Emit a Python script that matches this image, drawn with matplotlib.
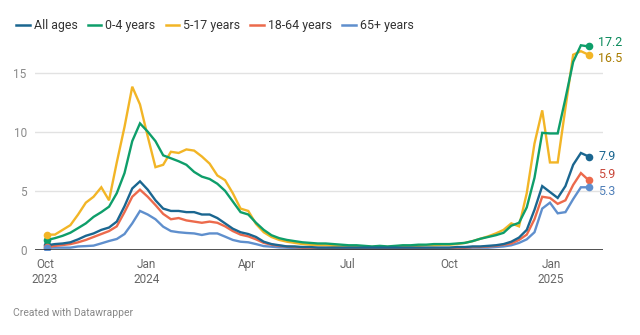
import numpy as np
import pandas as pd
import matplotlib
matplotlib.use("Agg")
import matplotlib.pyplot as plt
import matplotlib.dates as mdates

plt.rcParams['font.family'] = ['Roboto', 'DejaVu Sans']

# weekly rates, Oct 2023 - Feb 2025
dates = pd.date_range("2023-10-03", periods=71, freq="7D")

all_ages = [0.4, 0.5, 0.55, 0.65, 0.9, 1.2, 1.4, 1.7, 1.9, 2.4,
            3.7, 5.2, 5.8, 5.1, 4.2, 3.5, 3.3, 3.3, 3.2, 3.2,
            3.0, 3.0, 2.7, 2.25, 1.8, 1.5, 1.35, 1.1, 0.7, 0.5,
            0.4, 0.3, 0.3, 0.25, 0.25, 0.2, 0.2, 0.2, 0.2, 0.2,
            0.2, 0.2, 0.2, 0.2, 0.2, 0.2, 0.2, 0.2, 0.2, 0.2,
            0.2, 0.2, 0.2, 0.25, 0.25, 0.3, 0.3, 0.35, 0.4, 0.5,
            0.7, 1.05, 1.7, 3.4, 5.4, 4.9, 4.4, 5.4, 7.2, 8.2, 7.9]
age_0_4 = [0.85, 1.0, 1.2, 1.46, 1.85, 2.25, 2.8, 3.2, 3.66, 4.8,
           6.5, 9.2, 10.7, 10.0, 9.2, 8.0, 7.75, 7.5, 7.2, 6.6,
           6.2, 6.0, 5.6, 5.0, 4.1, 3.2, 3.0, 2.3, 1.7, 1.25,
           1.0, 0.85, 0.75, 0.65, 0.6, 0.55, 0.55, 0.5, 0.45, 0.4,
           0.4, 0.35, 0.3, 0.35, 0.3, 0.35, 0.4, 0.4, 0.45, 0.45,
           0.5, 0.5, 0.5, 0.55, 0.6, 0.75, 0.95, 1.1, 1.25, 1.45,
           2.05, 2.3, 3.6, 6.1, 9.9, 9.85, 9.85, 12.8, 15.9, 17.3, 17.2]
age_5_17 = [1.3, 1.3, 1.7, 2.1, 3.0, 4.0, 4.5, 5.3, 4.2, 7.4,
            10.4, 13.8, 12.3, 9.6, 7.0, 7.2, 8.3, 8.2, 8.5, 8.4,
            7.9, 7.3, 6.3, 5.9, 4.8, 3.5, 3.3, 2.2, 1.5, 1.1,
            0.85, 0.7, 0.6, 0.5, 0.45, 0.4, 0.4, 0.35, 0.3, 0.3,
            0.25, 0.3, 0.25, 0.3, 0.25, 0.3, 0.35, 0.3, 0.35, 0.4,
            0.4, 0.45, 0.45, 0.5, 0.6, 0.75, 0.95, 1.15, 1.4, 1.7,
            2.25, 2.0, 4.8, 9.0, 11.8, 7.4, 7.4, 12.0, 16.5, 16.8, 16.5]
age_18_64 = [0.25, 0.35, 0.42, 0.5, 0.65, 0.85, 1.1, 1.35, 1.6, 2.0,
             3.2, 4.5, 5.1, 4.5, 3.8, 3.05, 2.6, 2.7, 2.5, 2.4,
             2.3, 2.4, 2.3, 2.0, 1.6, 1.3, 1.15, 0.9, 0.6, 0.45,
             0.35, 0.3, 0.25, 0.2, 0.2, 0.18, 0.17, 0.17, 0.16, 0.16,
             0.15, 0.15, 0.15, 0.15, 0.15, 0.15, 0.15, 0.16, 0.16, 0.17,
             0.17, 0.18, 0.18, 0.2, 0.2, 0.25, 0.25, 0.3, 0.35, 0.45,
             0.55, 0.85, 1.3, 2.6, 4.5, 4.4, 3.9, 4.2, 5.5, 6.5, 5.9]
age_65 = [0.2, 0.2, 0.2, 0.2, 0.3, 0.33, 0.37, 0.56, 0.76, 0.93,
          1.35, 2.25, 3.3, 3.0, 2.6, 1.97, 1.6, 1.5, 1.44, 1.4,
          1.27, 1.4, 1.4, 1.13, 0.85, 0.7, 0.65, 0.5, 0.33, 0.28,
          0.22, 0.2, 0.17, 0.15, 0.15, 0.14, 0.14, 0.13, 0.13, 0.13,
          0.12, 0.12, 0.12, 0.12, 0.12, 0.12, 0.12, 0.13, 0.13, 0.13,
          0.13, 0.14, 0.14, 0.15, 0.15, 0.2, 0.2, 0.2, 0.25, 0.3,
          0.4, 0.6, 0.9, 1.5, 3.5, 4.0, 3.1, 3.2, 4.3, 5.3, 5.3]

labels = ["All ages", "0-4 years", "5-17 years", "18-64 years", "65+ years"]
series = [all_ages, age_0_4, age_5_17, age_18_64, age_65]
colors = ["#1a6690", "#0e9e6a", "#f2b526", "#ec6a4c", "#5f8fcd"]
label_colors = ["#1a6690", "#0b8a5c", "#a87c00", "#c9483b", "#4f7fb8"]
# vertical nudges (points) for end labels so they don't collide
nudge = [0, 3, -3, 4, -3]

fig = plt.figure(figsize=(6.4, 3.35), dpi=100)
ax = fig.add_axes([35 / 640, 85 / 335, 568 / 640, 213 / 335])

# draw back to front so All ages sits on top like the original
order = [2, 1, 4, 3, 0]
for k in order:
    ax.plot(dates, series[k], color=colors[k], lw=1.7, solid_joinstyle="miter",
            zorder=3 + (k == 0))
for k in range(5):
    ys = series[k]
    ax.plot([dates[0], dates[-1]], [ys[0], ys[-1]], "o", color=colors[k],
            ms=5.5, zorder=5, mec="none")
    ax.annotate(f"{ys[-1]:.1f}", (dates[-1], ys[-1]), xytext=(7, nudge[k]),
                textcoords="offset points", va="center", ha="left",
                fontsize=9, color=label_colors[k])

ax.set_ylim(0, 18)
ax.set_xlim(pd.Timestamp("2023-09-22"), pd.Timestamp("2025-02-17"))
ax.set_yticks([0, 5, 10, 15])
ax.grid(axis="y", color="#e2e2e2", lw=1)
ax.axhline(0, color="#222222", lw=1.1, zorder=6)
for s in ax.spines.values():
    s.set_visible(False)

tick_dates = pd.to_datetime(["2023-10-01", "2024-01-01", "2024-04-01",
                             "2024-07-01", "2024-10-01", "2025-01-01"])
tick_labels = ["Oct\n2023", "Jan\n2024", "Apr", "Jul", "Oct", "Jan\n2025"]
ax.set_xticks(tick_dates)
ax.set_xticklabels(tick_labels)
ax.tick_params(axis="x", length=0, pad=6, labelsize=8.5, labelcolor="#666666")
ax.tick_params(axis="y", length=0, pad=6, labelsize=8.5, labelcolor="#8a8a8a")
ax.set_axisbelow(True)

handles = [plt.Line2D([], [], color=c, lw=1.8) for c in colors]
fig.legend(handles, labels, loc="center left", bbox_to_anchor=(16 / 640, 1 - 25.5 / 335),
           ncol=5, frameon=False, fontsize=8.9, handlelength=1.1, handletextpad=0.35,
           columnspacing=0.8, borderaxespad=0, borderpad=0, labelcolor="#333333")

fig.text(13 / 640, 1 - 313 / 335, "Created with Datawrapper", fontsize=7.5,
         color="#888888", va="center", ha="left")

fig.savefig("out.png", dpi=100)
